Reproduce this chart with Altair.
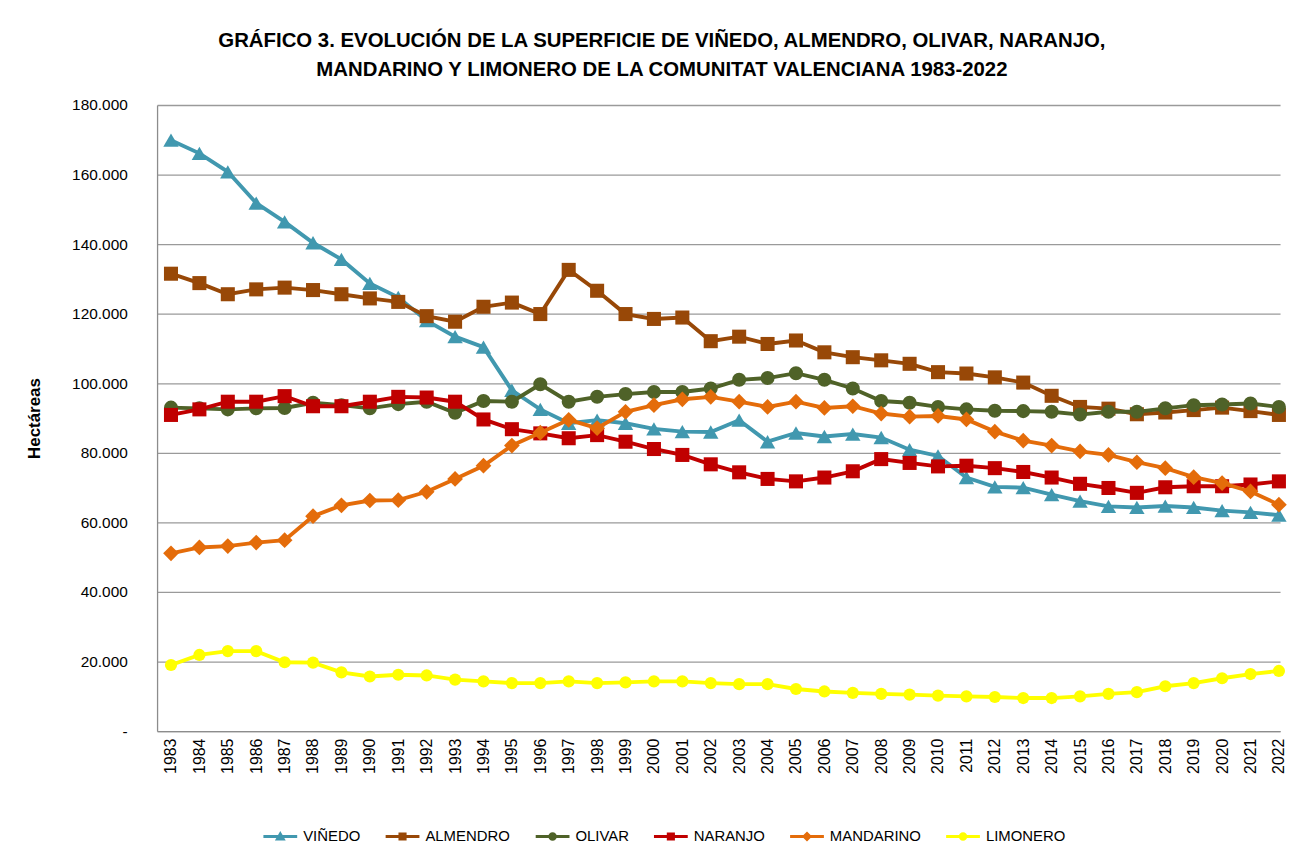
import altair as alt
import pandas as pd

YEARS = list(range(1983, 2023))
SERIES = ["VIÑEDO", "ALMENDRO", "OLIVAR", "NARANJO", "MANDARINO", "LIMONERO"]
COLORS = ["#4198af", "#984807", "#4f6228", "#c00000", "#e46c0a", "#ffff00"]
SHAPES = ["triangle-up", "square", "circle", "square", "diamond", "circle"]
SIZES = [240, 200, 200, 200, 250, 150]

VINEDO = [169900, 166100, 160800, 151800, 146400, 140400, 135600, 128700, 124700, 118000,
          113400, 110400, 98000, 92500, 88500, 89400, 88500, 86900, 86100, 86000,
          89400, 83200, 85700, 84700, 85400, 84400, 80900, 79100, 72900, 70200,
          70000, 68000, 66100, 64600, 64300, 64700, 64300, 63400, 62900, 62100]
ALMENDRO = [131500, 128800, 125600, 127000, 127500, 126800, 125600, 124400, 123400, 119300,
            117700, 122000, 123200, 119900, 132600, 126600, 119900, 118500, 118900, 112100,
            113400, 111300, 112300, 108900, 107500, 106600, 105600, 103200, 102800, 101700,
            100200, 96400, 93200, 92700, 91100, 91600, 92300, 93000, 92000, 90900]
OLIVAR = [93000, 92800, 92500, 92800, 92900, 94400, 93700, 92800, 94000, 94700,
          91500, 94900, 94700, 99700, 94700, 96100, 96900, 97500, 97500, 98500,
          101000, 101500, 102900, 101000, 98500, 94900, 94400, 93200, 92500, 92100,
          92000, 91800, 91000, 91800, 91800, 92800, 93700, 93900, 94200, 93200]
NARANJO = [90900, 92500, 94700, 94700, 96300, 93400, 93400, 94700, 96100, 95900,
           94700, 89600, 86800, 85600, 84200, 85100, 83200, 81100, 79400, 76700,
           74400, 72500, 71800, 72900, 74700, 78200, 77100, 76100, 76300, 75600,
           74500, 72900, 71100, 69900, 68500, 70100, 70400, 70400, 70900, 71800]
MANDARINO = [51100, 52800, 53200, 54200, 54900, 61800, 64900, 66300, 66400, 68800,
             72500, 76300, 82100, 85800, 89500, 87100, 91800, 93700, 95400, 96100,
             94700, 93200, 94700, 92900, 93400, 91300, 90400, 90600, 89600, 86100,
             83500, 82100, 80400, 79400, 77300, 75600, 73000, 71300, 68900, 65100]
LIMONERO = [19000, 21900, 23000, 23000, 19800, 19700, 16900, 15700, 16200, 16000,
            14800, 14300, 13800, 13800, 14300, 13800, 14000, 14300, 14300, 13800,
            13500, 13500, 12100, 11400, 11000, 10700, 10500, 10200, 10000, 9800,
            9500, 9500, 10000, 10700, 11200, 12900, 13800, 15200, 16400, 17300]

VALUES = [VINEDO, ALMENDRO, OLIVAR, NARANJO, MANDARINO, LIMONERO]

rows = []
for s, vals in zip(SERIES, VALUES):
    for y, v in zip(YEARS, vals):
        rows.append({"year": y, "serie": s, "value": v})
df = pd.DataFrame(rows)

# legend symbols: a bar (line) with the marker on top
BAR = "M-1,-0.09H1V0.09H-1Z"
LEG_PATHS = [
    BAR + "M0,-0.32L0.32,0.24H-0.32Z",
    BAR + "M-0.24,-0.24H0.24V0.24H-0.24Z",
    BAR + "M-0.25,0A0.25,0.25,0,1,1,0.25,0A0.25,0.25,0,1,1,-0.25,0Z",
    BAR + "M-0.24,-0.24H0.24V0.24H-0.24Z",
    BAR + "M0,-0.3L0.3,0L0,0.3L-0.3,0Z",
    BAR + "M-0.25,0A0.25,0.25,0,1,1,0.25,0A0.25,0.25,0,1,1,-0.25,0Z",
]
LEG_KEYS = ["leg:" + s for s in SERIES]

color_scale = alt.Scale(domain=SERIES + LEG_KEYS, range=COLORS + COLORS)
shape_scale = alt.Scale(domain=SERIES + LEG_KEYS, range=SHAPES + LEG_PATHS)

x_enc = alt.X(
    "year:Q",
    scale=alt.Scale(domain=[1982.51, 2022.04], nice=False, zero=False),
    axis=alt.Axis(values=YEARS, format="d", labelAngle=-90, grid=False, ticks=False,
                  labelPadding=7, labelFontSize=16, labelFont="Liberation Sans",
                  labelColor="#000000", labelOverlap=False, labelFlush=False,
                  domainColor="#8c8c8c", domainWidth=1.3, title=None),
)
y_enc = alt.Y(
    "value:Q",
    scale=alt.Scale(domain=[0, 180000], nice=False),
    axis=alt.Axis(values=list(range(0, 180001, 20000)),
                  labelExpr="datum.value == 0 ? '-\u00a0\u00a0\u00a0' : replace(format(datum.value, ','), ',', '.')",
                  ticks=False, labelPadding=30, labelFontSize=15.5, labelFont="Liberation Sans",
                  labelColor="#000000", grid=True, gridColor="#9a9a9a", gridWidth=1.3,
                  domainColor="#8c8c8c", domainWidth=1.3,
                  title="Hectáreas", titleFont="Liberation Sans", titleFontSize=17,
                  titleFontWeight="bold", titleColor="#000000", titleAngle=-90,
                  titleX=-123, titleY=315, titleAlign="center", titleBaseline="middle"),
)

leg_def = alt.Legend(
    title=None, values=LEG_KEYS, orient="none", legendX=107, legendY=719,
    direction="horizontal", labelExpr="replace(datum.label, 'leg:', '')",
    symbolSize=1156, symbolStrokeWidth=0, symbolOpacity=1,
    labelFont="Liberation Sans", labelFontSize=15, labelColor="#000000",
    labelOffset=6, columnPadding=25, padding=0,
)

# legend-only layer: tiny points hidden beneath the 1983 markers
legend_layer = (
    alt.Chart(df)
    .transform_filter(alt.datum.year == 1983)
    .transform_calculate(leg="'leg:' + datum.serie")
    .mark_point(filled=True, opacity=1, size=20)
    .encode(
        x=x_enc, y=y_enc,
        color=alt.Color("leg:N", scale=color_scale, legend=leg_def),
        shape=alt.Shape("leg:N", scale=shape_scale, legend=leg_def),
    )
)

layers = [legend_layer]
for s, sz in zip(SERIES, SIZES):
    base = alt.Chart(df).transform_filter(alt.datum.serie == s)
    layers.append(
        base.mark_line(strokeWidth=3.9).encode(
            x=x_enc, y=y_enc,
            color=alt.Color("serie:N", scale=color_scale),
        )
    )
    layers.append(
        base.mark_point(filled=True, opacity=1, size=sz).encode(
            x=x_enc, y=y_enc,
            color=alt.Color("serie:N", scale=color_scale),
            shape=alt.Shape("serie:N", scale=shape_scale),
        )
    )

chart = (
    alt.layer(*layers)
    .properties(
        width=1130,
        height=630,
        background="white",
        autosize=alt.AutoSizeParams(type="none"),
        padding={"left": 150, "top": 95, "right": 8, "bottom": 115},
        title=alt.TitleParams(
            text=["GRÁFICO 3. EVOLUCIÓN DE LA SUPERFICIE DE VIÑEDO, ALMENDRO, OLIVAR, NARANJO,",
                  "MANDARINO Y LIMONERO DE LA COMUNITAT VALENCIANA 1983-2022"],
            font="Liberation Sans", fontSize=20.5, fontWeight="bold", color="#000000",
            anchor="middle", dx=-57, lineHeight=29, offset=-2, baseline="bottom",
        ),
    )
    .configure_view(stroke=None)
)

chart.save("out.html", embed_options={"renderer": "svg", "actions": False})
